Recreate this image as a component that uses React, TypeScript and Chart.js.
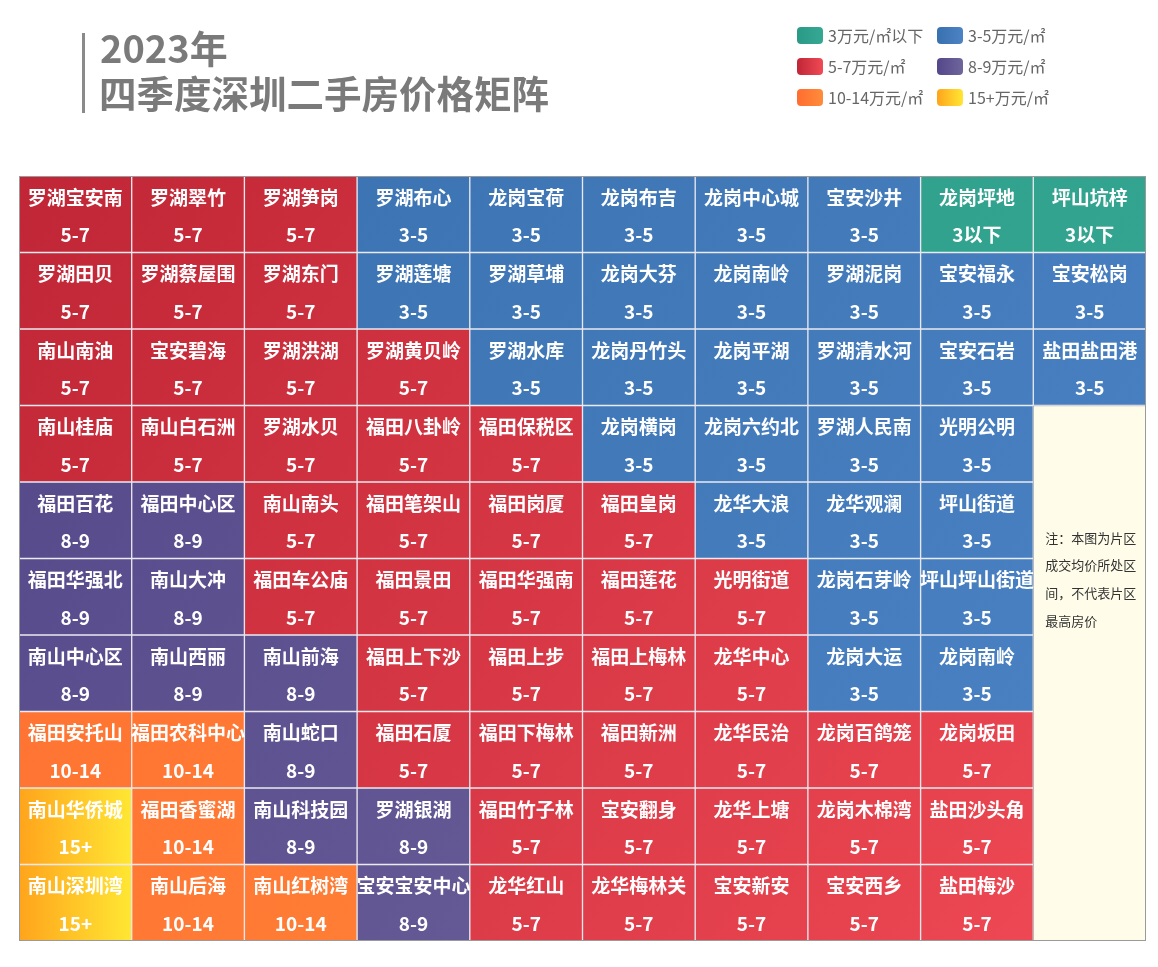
import React, { useEffect, useRef } from 'react';
import { Chart, registerables } from 'chart.js';

Chart.register(...registerables);

// ---------- data ----------
const columnLabels = ['1', '2', '3', '4', '5', '6', '7', '8', '9', '10'];

const rowNames: string[][] = [
  ['罗湖宝安南', '罗湖翠竹', '罗湖笋岗', '罗湖布心', '龙岗宝荷', '龙岗布吉', '龙岗中心城', '宝安沙井', '龙岗坪地', '坪山坑梓'],
  ['罗湖田贝', '罗湖蔡屋围', '罗湖东门', '罗湖莲塘', '罗湖草埔', '龙岗大芬', '龙岗南岭', '罗湖泥岗', '宝安福永', '宝安松岗'],
  ['南山南油', '宝安碧海', '罗湖洪湖', '罗湖黄贝岭', '罗湖水库', '龙岗丹竹头', '龙岗平湖', '罗湖清水河', '宝安石岩', '盐田盐田港'],
  ['南山桂庙', '南山白石洲', '罗湖水贝', '福田八卦岭', '福田保税区', '龙岗横岗', '龙岗六约北', '罗湖人民南', '光明公明'],
  ['福田百花', '福田中心区', '南山南头', '福田笔架山', '福田岗厦', '福田皇岗', '龙华大浪', '龙华观澜', '坪山街道'],
  ['福田华强北', '南山大冲', '福田车公庙', '福田景田', '福田华强南', '福田莲花', '光明街道', '龙岗石芽岭', '坪山坪山街道'],
  ['南山中心区', '南山西丽', '南山前海', '福田上下沙', '福田上步', '福田上梅林', '龙华中心', '龙岗大运', '龙岗南岭'],
  ['福田安托山', '福田农科中心', '南山蛇口', '福田石厦', '福田下梅林', '福田新洲', '龙华民治', '龙岗百鸽笼', '龙岗坂田'],
  ['南山华侨城', '福田香蜜湖', '南山科技园', '罗湖银湖', '福田竹子林', '宝安翻身', '龙华上塘', '龙岗木棉湾', '盐田沙头角'],
  ['南山深圳湾', '南山后海', '南山红树湾', '宝安宝安中心', '龙华红山', '龙华梅林关', '宝安新安', '宝安西乡', '盐田梅沙'],
];

const rowPrices: string[][] = [
  ['5-7', '5-7', '5-7', '3-5', '3-5', '3-5', '3-5', '3-5', '3以下', '3以下'],
  ['5-7', '5-7', '5-7', '3-5', '3-5', '3-5', '3-5', '3-5', '3-5', '3-5'],
  ['5-7', '5-7', '5-7', '5-7', '3-5', '3-5', '3-5', '3-5', '3-5', '3-5'],
  ['5-7', '5-7', '5-7', '5-7', '5-7', '3-5', '3-5', '3-5', '3-5'],
  ['8-9', '8-9', '5-7', '5-7', '5-7', '5-7', '3-5', '3-5', '3-5'],
  ['8-9', '8-9', '5-7', '5-7', '5-7', '5-7', '5-7', '3-5', '3-5'],
  ['8-9', '8-9', '8-9', '5-7', '5-7', '5-7', '5-7', '3-5', '3-5'],
  ['10-14', '10-14', '8-9', '5-7', '5-7', '5-7', '5-7', '5-7', '5-7'],
  ['15+', '10-14', '8-9', '8-9', '5-7', '5-7', '5-7', '5-7', '5-7'],
  ['15+', '10-14', '10-14', '8-9', '5-7', '5-7', '5-7', '5-7', '5-7'],
];

const priceLevels = ['3以下', '3-5', '5-7', '8-9', '10-14', '15+'];
const legendLabels = ['3万元/㎡以下', '3-5万元/㎡', '5-7万元/㎡', '8-9万元/㎡', '10-14万元/㎡', '15+万元/㎡'];
const levelStart = ['#2a9a86', '#3970ae', '#c02636', '#54478a', '#ff6d30', '#ffa41c'];
const levelEnd = ['#35a893', '#4c83c5', '#f04a55', '#6f669c', '#ff8c3a', '#ffe733'];

const noteLines = ['注：本图为片区', '成交均价所处区', '间，不代表片区', '最高房价'];
const noteColumn = 9;
const noteRowStart = 3;
const noteRowEnd = 10;

const titleLine1 = '2023年';
const titleLine2 = '四季度深圳二手房价格矩阵';

const FONT = '"Noto Sans CJK SC", "Noto Sans", sans-serif';

export default function App() {
  const canvasRef = useRef<HTMLCanvasElement | null>(null);

  useEffect(() => {
    const canvas = canvasRef.current;
    if (!canvas) return;

    const gradCache: Record<string, CanvasGradient> = {};

    const colorFor = (chart: any, lvl: string, col: number) => {
      const li = priceLevels.indexOf(lvl);
      const area = chart.chartArea;
      if (!area || li < 0) return levelStart[Math.max(li, 0)];
      const ctx = chart.ctx as CanvasRenderingContext2D;
      if (lvl === '15+') {
        const xs = chart.scales.x;
        const cx = xs.getPixelForValue(col);
        const w = (area.right - area.left) / columnLabels.length;
        const key = lvl + '_' + col;
        if (!gradCache[key]) {
          const g = ctx.createLinearGradient(cx - w / 2, 0, cx + w / 2, 0);
          g.addColorStop(0, levelStart[li]);
          g.addColorStop(1, levelEnd[li]);
          gradCache[key] = g;
        }
        return gradCache[key];
      }
      if (!gradCache[lvl]) {
        const g = ctx.createLinearGradient(area.left, area.top, area.right, area.bottom);
        g.addColorStop(0, levelStart[li]);
        g.addColorStop(1, levelEnd[li]);
        gradCache[lvl] = g;
      }
      return gradCache[lvl];
    };

    const datasets: any[] = rowNames.map((names, r) => ({
      label: 'row' + r,
      data: columnLabels.map((_, c) => (c < names.length ? [r, r + 1] : null)),
      backgroundColor: (ctx: any) => {
        const c = ctx.dataIndex;
        const lvl = rowPrices[r][c];
        return colorFor(ctx.chart, lvl, c);
      },
      borderColor: 'rgba(225,225,235,0.75)',
      borderWidth: 1,
      borderSkipped: false,
      categoryPercentage: 1,
      barPercentage: 1,
      grouped: false,
    }));

    datasets.push({
      label: 'note',
      data: columnLabels.map((_, c) => (c === noteColumn ? [noteRowStart, noteRowEnd] : null)),
      backgroundColor: '#fffde9',
      borderColor: '#a8a8a8',
      borderWidth: 1,
      borderSkipped: false,
      categoryPercentage: 1,
      barPercentage: 1,
      grouped: false,
    });

    const textPlugin = {
      id: 'cellText',
      afterDatasetsDraw(chart: any) {
        const ctx = chart.ctx as CanvasRenderingContext2D;
        const xs = chart.scales.x;
        const ys = chart.scales.y;
        ctx.save();
        ctx.textAlign = 'center';
        ctx.textBaseline = 'middle';
        ctx.fillStyle = '#ffffff';
        rowNames.forEach((names, r) => {
          names.forEach((name, c) => {
            const x = xs.getPixelForValue(c);
            ctx.font = 'bold 19px ' + FONT;
            ctx.fillText(name, x, ys.getPixelForValue(r + 0.28));
            ctx.font = 'bold 19px ' + FONT;
            ctx.fillText(rowPrices[r][c], x, ys.getPixelForValue(r + 0.77));
          });
        });
        // note text
        const area = chart.chartArea;
        const colW = (area.right - area.left) / columnLabels.length;
        const nx = xs.getPixelForValue(noteColumn) - colW / 2 + 12;
        ctx.textAlign = 'left';
        ctx.fillStyle = '#333333';
        ctx.font = '13px ' + FONT;
        const baseY = ys.getPixelForValue(4.73);
        noteLines.forEach((line, i) => {
          ctx.fillText(line, nx, baseY + i * 27.7);
        });
        // outer border
        ctx.strokeStyle = '#9a9a9a';
        ctx.lineWidth = 1;
        ctx.strokeRect(area.left + 0.5, area.top + 0.5, area.right - area.left - 1, area.bottom - area.top - 1);
        ctx.restore();
      },
    };

    const chart = new Chart(canvas, {
      type: 'bar',
      data: { labels: columnLabels, datasets },
      options: {
        animation: false,
        responsive: false,
        devicePixelRatio: 1,
        layout: { padding: { left: 19, right: 12, top: 176, bottom: 26 } },
        scales: {
          x: { type: 'category', display: false, offset: true, grid: { display: false } },
          y: { type: 'linear', display: false, min: 0, max: 10, reverse: true, grid: { display: false } },
        },
        plugins: {
          legend: { display: false },
          tooltip: { enabled: false },
        },
      },
      plugins: [textPlugin],
    });

    return () => {
      chart.destroy();
    };
  }, []);

  return (
    <div style={{ position: 'absolute', left: 0, top: 0, width: 1158, height: 967, background: '#ffffff', overflow: 'hidden', fontFamily: FONT }}>
      <canvas ref={canvasRef} width={1158} height={967} style={{ position: 'absolute', left: 0, top: 0 }} />
      <div style={{ position: 'absolute', left: 82, top: 33, width: 3, height: 80, background: '#8a8a8a' }} />
      <div style={{ position: 'absolute', left: 100, top: 23, fontSize: 38, fontWeight: 700, color: '#7a7a7a', lineHeight: '48px', whiteSpace: 'nowrap' }}>
        {titleLine1}
      </div>
      <div style={{ position: 'absolute', left: 99, top: 67, fontSize: 37.5, fontWeight: 700, color: '#7a7a7a', lineHeight: '50px', whiteSpace: 'nowrap' }}>
        {titleLine2}
      </div>
      {legendLabels.map((lab, i) => {
        const row = Math.floor(i / 2);
        const col = i % 2;
        const left = 797 + col * 140;
        const top = 27 + row * 31;
        return (
          <div key={lab}>
            <div
              style={{
                position: 'absolute',
                left,
                top,
                width: 26,
                height: 17,
                borderRadius: 4,
                background: `linear-gradient(to right, ${levelStart[i]}, ${levelEnd[i]})`,
              }}
            />
            <div style={{ position: 'absolute', left: left + 31, top: top - 4, fontSize: 16, lineHeight: '24px', color: '#666666', whiteSpace: 'nowrap' }}>
              {lab}
            </div>
          </div>
        );
      })}
    </div>
  );
}
